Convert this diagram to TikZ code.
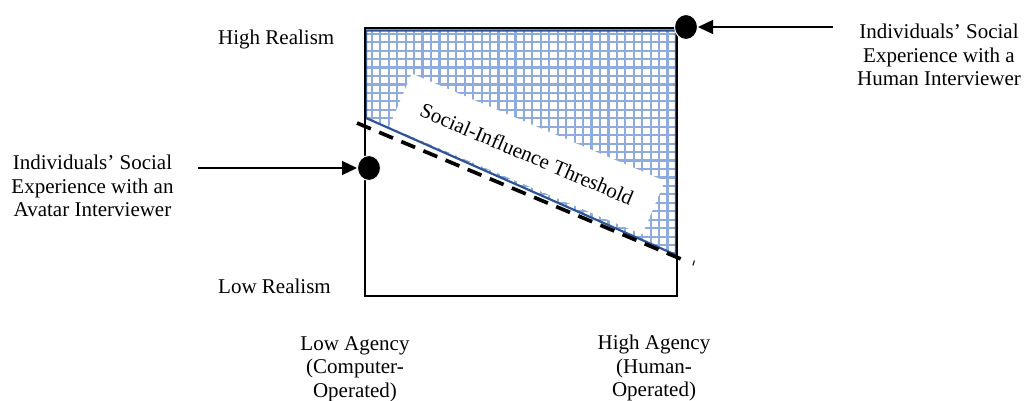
\documentclass[tikz,border=0pt]{standalone}
\usepackage{fontspec}
\setmainfont{Liberation Serif}
\usetikzlibrary{arrows.meta,shapes.geometric}
\definecolor{gridblue}{HTML}{8FAADC}
\definecolor{edgeblue}{HTML}{2F5597}
\begin{document}
\begin{tikzpicture}[x=1pt,y=-1pt,
  lbl/.style={font=\fontsize{21}{23.5}\selectfont, inner sep=0pt, align=center},
  dot/.style={ellipse, fill=black, draw=white, line width=1pt,
    minimum width=23pt, minimum height=25pt, inner sep=0pt},
  pointer/.style={line width=1.3pt, -{Triangle[length=15pt,width=14pt]}},
  frame/.style={line width=2.6pt, line join=miter},
  threshold/.style={line width=3.7pt, dash pattern=on 15pt off 9pt},
  zone/.style={edgeblue, line width=2.2pt, line join=miter}]
\useasboundingbox (0,0) rectangle (1024,401);

% corners of the shaded high-influence zone
\coordinate (q1) at (366,30.5);
\coordinate (q2) at (676,30.5);
\coordinate (q3) at (676,255);
\coordinate (q4) at (366,118);

% cross-hatch fill
\begin{scope}
  \clip (q1) -- (q2) -- (q3) -- (q4) -- cycle;
  \draw[gridblue, line width=2.2pt] (360,270) grid[step=8.45pt] (690,20);
\end{scope}

% threshold label on a white band
\node[lbl, fill=white, rotate=-23, minimum width=275pt, minimum height=58pt]
  (thr) at (527,154) {Social-Influence Threshold};

% zone outline
\draw[zone] (q1) -- (q2) -- (q3) -- (q4) -- cycle;

% dashed threshold line
\coordinate (d1) at (357,123);
\coordinate (d2) at (681,259);
\draw[threshold] (d1) -- (d2);
\draw[line width=1pt] (694.5,260.5) -- (692.8,265.5);

% outer frame
\coordinate (fa) at (365,28);
\coordinate (fb) at (677,296);
\draw[frame] (fa) rectangle (fb);

% experience points
\node[dot] (hd) at (686,27) {};
\node[dot] (ad) at (369,168) {};

% pointers
\coordinate (hs) at (833,27);
\coordinate (as) at (198,168);
\draw[pointer] (hs) -- (hd);
\draw[pointer] (as) -- (ad);

% axis labels (base anchor = baseline of the last line)
\node[lbl, anchor=base west] (hr) at (218,45) {High Realism};
\node[lbl, anchor=base west] (lr) at (218,293) {Low Realism};
\node[lbl, anchor=base] (la) at (355,397) {Low Agency\\(Computer-\\Operated)};
\node[lbl, anchor=base] (ha) at (654,396.5) {High Agency\\(Human-\\Operated)};

% callouts
\node[lbl, anchor=base] (ht) at (939,86) {Individuals’ Social\\Experience with a\\Human Interviewer};
\node[lbl, anchor=base] (at) at (92.5,216.5) {Individuals’ Social\\Experience with an\\Avatar Interviewer};
\end{tikzpicture}
\end{document}
